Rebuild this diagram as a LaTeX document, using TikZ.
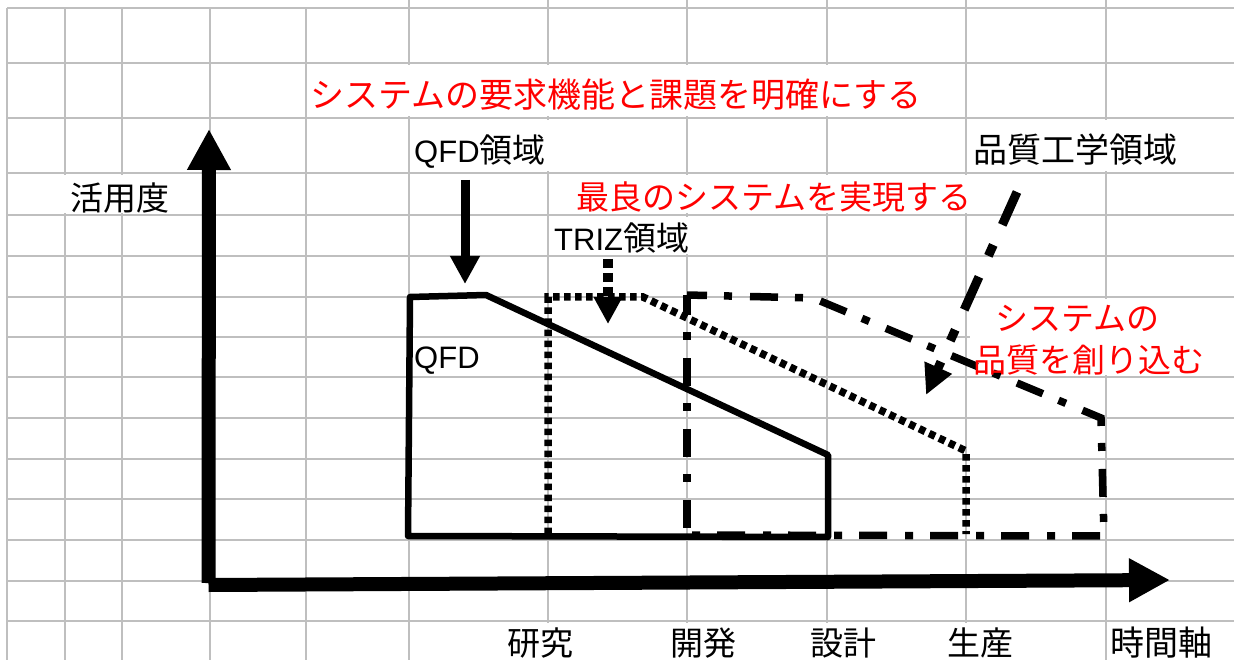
\documentclass[tikz,border=0pt]{standalone}
\usepackage{fontspec}
\setmainfont{Noto Sans CJK JP}
\newfontfamily\latinfont{Liberation Sans}
\usetikzlibrary{arrows.meta}
\definecolor{gridgray}{HTML}{BFBFBF}
\definecolor{redtxt}{HTML}{FF0000}
\newcommand{\lat}[1]{{\latinfont\fontsize{31}{36}\selectfont #1}}
\begin{document}
\begin{tikzpicture}[x=1pt,y=-1pt,
  gridline/.style={draw=gridgray, line width=2pt},
  maskbox/.style={fill=white},
  lbl/.style={inner sep=0pt, anchor=west, font=\fontsize{33}{36}\selectfont},
  biglbl/.style={lbl, font=\fontsize{34}{36}\selectfont},
  redlbl/.style={lbl, text=redtxt},
  qfdline/.style={line width=6.5pt, line join=round, line cap=round},
  trizline/.style={line width=7.5pt, dash pattern=on 6.5pt off 4.5pt},
  qeline/.style={line width=7.5pt, dash pattern=on 28pt off 17pt on 8pt off 18pt, dash phase=8pt},
  axisline/.style={line width=14pt, -{Triangle[length=41pt,width=41pt]}},
]
\useasboundingbox (0,0) rectangle (1234,660);
\fill[white] (0,0) rectangle (1234,660);
% spreadsheet grid
\foreach \x in {7,65,122,210,306} \draw[gridline] (\x,8) -- (\x,660);
\foreach \x in {409,548,687,827,966,1106} \draw[gridline] (\x,0) -- (\x,660);
\foreach \y in {8,63,118,173,215,256,297,337,377,418,459,499,540,581,621} \draw[gridline] (7,\y) -- (1234,\y);
% text boxes hiding grid lines
\fill[maskbox] (60,175) rectangle (200,213);
\fill[maskbox] (310,65) rectangle (962,116);
\fill[maskbox] (412,120) rectangle (684,171);
\fill[maskbox] (552,175) rectangle (975,213);
\fill[maskbox] (552,217) rectangle (740,254);
\fill[maskbox] (970,120) rectangle (1234,171);
\fill[maskbox] (970,299) rectangle (1234,375);
\fill[maskbox] (415,623) rectangle (1100,660);

% axes
\coordinate (origin) at (208.5,585);
\coordinate (ytip) at (209,129);
\coordinate (xtip) at (1170,580);
\draw[axisline] (208.5,583) -- (ytip);
\draw[axisline] (origin) -- (xtip);

% QFD region (solid)
\coordinate (q1) at (410,297);
\coordinate (q2) at (486,295);
\coordinate (q3) at (828,455);
\coordinate (q4) at (828,537);
\coordinate (q5) at (408,536);
\draw[qfdline] (q1) -- (q2) -- (q3) -- (q4) -- (q5) -- cycle;

% TRIZ region (dotted)
\coordinate (t1) at (548,534);
\coordinate (t2) at (548,297);
\coordinate (t3) at (643,297);
\coordinate (t4) at (966,451);
\coordinate (t5) at (966,534);
\draw[trizline] (t1) -- (t2) -- (t3) -- (t4) -- (t5);

% quality engineering region (dash-dot)
\coordinate (e1) at (687,295);
\coordinate (e2) at (813,298);
\coordinate (e3) at (1101,418);
\coordinate (e4) at (1104,536);
\coordinate (e5) at (687,535);
\draw[qeline] (e1) -- (e2) -- (e3) -- (e4) -- (e5);
\draw[qeline] (e1) -- (e5);

% labels
\node[lbl] (yl) at (70,198) {活用度};
\node[redlbl, biglbl, text=redtxt] (r1) at (310,95) {システムの要求機能と課題を明確にする};
\node[lbl] (qfdr) at (414,151.5) {\lat{QFD}領域};
\node[redlbl] (r2) at (576,197) {最良のシステムを実現する};
\node[lbl] (trizr) at (554,238) {\lat{TRIZ}領域};
\node[biglbl] (qer) at (973,150) {品質工学領域};
\node[redlbl] (r3a) at (995,319) {システムの};
\node[redlbl] (r3b) at (973,360) {品質を創り込む};
\node[lbl] (qfdin) at (414,361) {\lat{QFD}};
\node[lbl] (t1l) at (507,643) {研究};
\node[lbl] (t2l) at (670,643) {開発};
\node[lbl] (t3l) at (810,643) {設計};
\node[lbl] (t4l) at (947,643) {生産};
\node[biglbl] (t5l) at (1110,643) {時間軸};

% pointer arrows
\coordinate (aq0) at (465,180);
\coordinate (aq1) at (465,284);
\draw[line width=9pt, -{Triangle[length=28pt,width=28pt]}] (aq0) -- (aq1);
\coordinate (at0) at (608,259);
\coordinate (at1) at (608,324);
\draw[line width=10pt, dash pattern=on 9pt off 5pt, -{Triangle[length=27pt,width=27pt]}] (at0) -- (at1);
\coordinate (ae0) at (1017,192);
\coordinate (ae1) at (926,395);
\draw[line width=9pt, dash pattern=on 36pt off 22pt on 12pt off 23pt, -{Triangle[length=30pt,width=28pt]}] (ae0) -- (ae1);
\end{tikzpicture}
\end{document}
